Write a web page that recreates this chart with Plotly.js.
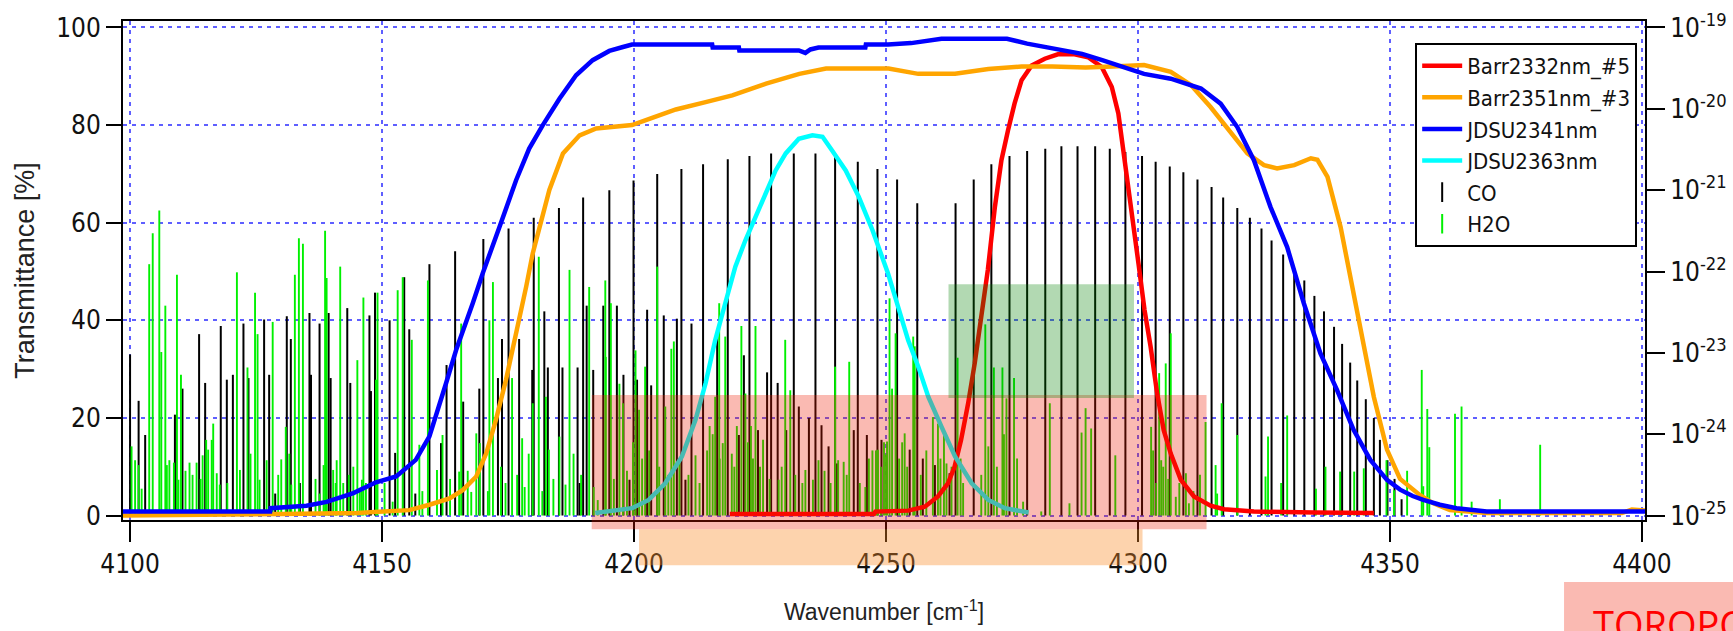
<!DOCTYPE html>
<html><head><meta charset="utf-8">
<script src="https://cdn.plot.ly/plotly-3.0.1.min.js"></script>
<style>html,body{margin:0;padding:0;background:#fff}</style>
</head><body><div id="chart" style="width:1733px;height:631px"></div>
<script>
// ---------------- data ----------------
// Filter transmittance curves [%] vs wavenumber [cm-1]
const redX = [4219.0,4230,4240,4247.6,4247.9,4254.4,4257.7,4260.3,4262.3,4263.6,4264.9,4266.3,4267.6,4268.9,4270.2,4271.6,4272.9,4274.2,4275.5,4276.9,4278.9,4281.5,4284.1,4287.4,4290.1,4292.8,4294.8,4296.1,4297.4,4298.8,4300.1,4301.3,4302.5,4303.8,4305.1,4306.5,4308.5,4311.1,4314.4,4317.1,4323.0,4335.0,4346.8];
const redY = [0.3,0.3,0.3,0.3,0.8,1.0,1.8,3.9,6.6,10.0,15.5,23.0,31.2,40.0,50.3,63.2,72.8,78.9,84.4,89.2,92.2,93.6,94.5,94.5,93.9,91.9,87.8,82.4,72.8,62.6,51.6,42.1,34.6,25.0,17.5,12.7,7.3,3.9,2.0,1.3,0.8,0.6,0.5];

const orangeX = [4098.6,4118,4130,4145,4148.8,4155.4,4159.4,4163.4,4166.0,4168.7,4170.7,4172.6,4174.6,4175.9,4177.3,4178.6,4179.9,4181.2,4183.2,4185.9,4189.2,4192.5,4199.6,4203.6,4208.3,4214.2,4219.5,4226.2,4232.8,4238.1,4250.5,4256.4,4263.7,4270.3,4276.9,4283.0,4289.6,4295.0,4301.2,4306.5,4310.5,4314.4,4318.4,4321.7,4325.0,4327.6,4331.0,4334.3,4335.6,4337.6,4340.2,4342.2,4344.2,4346.8,4349.4,4352.0,4355.9,4358.6,4361.9,4369.2,4396.0,4398.0,4400.6];
const orangeY = [0.0,0.1,0.3,0.5,0.8,1.1,2.2,3.5,5.2,8.0,12.8,19.6,27.8,33.9,40.1,46.9,53.7,59.1,66.7,74.2,77.9,79.3,80.0,81.5,83.2,84.7,86.1,88.5,90.5,91.6,91.6,90.5,90.5,91.5,92.0,92.0,91.8,92.0,92.3,90.9,88.2,83.7,78.3,74.2,71.8,71.1,71.8,73.2,72.9,69.4,59.1,48.2,38.0,24.3,13.5,7.5,4.2,2.5,1.1,0.5,0.5,1.2,1.0];

const blueX = [4098.6,4127.8,4127.9,4135.0,4139.0,4144.3,4148.8,4152.8,4156.7,4159.4,4162.7,4164.7,4168.0,4170.0,4173.3,4176.6,4179.2,4181.9,4185.2,4188.5,4191.8,4195.1,4197.8,4199.6,4215.5,4215.6,4220.8,4220.9,4232.7,4234.0,4235.0,4236.6,4245.9,4246.0,4250.4,4255.0,4261.0,4274.0,4278.0,4283.6,4288.9,4292.9,4296.8,4301.2,4306.5,4312.5,4316.4,4319.7,4323.0,4326.3,4329.6,4332.9,4336.2,4339.5,4342.8,4346.1,4349.4,4352.0,4354.5,4356.6,4359.9,4363.2,4369.2,4400.6];
const blueY = [0.8,0.8,1.5,2.0,2.8,4.6,6.8,8.0,11.4,16.2,27.1,33.9,43.5,49.7,59.1,68.7,75.2,80.0,85.4,90.2,93.3,95.2,96.0,96.5,96.5,95.9,95.9,95.3,95.3,94.8,95.5,95.9,95.9,96.5,96.5,96.8,97.7,97.7,96.7,95.6,94.6,93.3,91.9,90.5,89.5,87.5,84.4,79.6,72.8,63.2,55.0,43.5,33.2,25.7,17.5,11.4,7.3,5.3,4.0,3.2,2.2,1.5,0.8,0.8];

const cyanX = [4192.3,4196.0,4199.6,4202.9,4206.2,4209.5,4212.2,4214.2,4216.1,4218.1,4220.1,4222.1,4224.1,4226.1,4228.1,4230.1,4232.7,4235.4,4237.4,4239.3,4242.0,4244.6,4247.3,4250.4,4252.4,4254.4,4256.4,4258.4,4261.0,4263.7,4267.0,4270.3,4273.6,4278.3];
const cyanY = [0.5,0.9,1.5,3.2,6.6,12.1,19.6,27.1,35.9,43.5,51.0,56.4,61.2,66.0,70.7,74.2,77.2,77.9,77.6,74.8,70.7,65.3,58.5,49.6,42.8,35.9,30.5,24.3,18.2,12.1,6.6,3.2,1.5,0.6];

// CO line positions [cm-1] and log10 line intensities [cm/molecule]
const coX = [4100.0,4101.7,4103.0,4108.9,4110.4,4113.7,4114.9,4118.0,4119.2,4120.4,4122.5,4123.5,4126.6,4127.6,4128.8,4131.1,4131.9,4133.7,4135.6,4135.9,4137.6,4139.4,4139.8,4143.1,4143.7,4147.5,4147.8,4148.6,
 4151.5,4152.6,4154.4,4155.4,4156.6,4159.4,4161.7,4162.8,4164.5,4166.1,4169.3,4170.1,4173.0,4173.8,4175.1,4177.2,4179.8,4180.1,4182.2,4182.9,4185.1,4185.8,4188.8,4189.2,4189.9,4190.6,4191.9,4193.9,4195.1,4196.6,4197.9,4199.1,
 4199.9,4200.6,4202.6,4203.4,4204.6,4205.9,4208.5,4209.4,4210.2,4211.4,4213.7,4216.5,4218.6,4220.8,4221.8,4222.9,4224.6,4226.4,4227.2,4228.5,4230.2,4231.7,4232.7,4234.7,4236.0,4237.2,4238.6,4239.9,4240.3,4243.6,4244.4,4246.2,4248.3,4249.1,
 4252.2,4254.7,4256.2,4257.3,4259.7,4262.6,4263.8,4267.4,4270.9,4274.5,4278.0,4281.6,4284.8,4288.0,4291.5,4294.4,4297.5,4300.8,
 4303.5,4306.3,4309.0,4311.8,4314.6,4316.9,4319.7,4322.2,4324.5,4326.5,4328.8,4331.0,4333.0,4335.0,4336.9,4338.9,4340.5,4342.1,4343.5,4345.2,4346.8,4348.0,4349.5,4350.9,4352.3];
const coLogS = [-23.02,-23.59,-24.01,-23.76,-23.44,-22.77,-23.37,-22.67,-23.33,-23.27,-22.64,-23.31,-22.59,-23.27,-24.73,-22.55,-22.83,-24.60,-22.51,-23.27,-22.64,-22.51,-23.31,-22.45,-23.37,-22.54,-23.47,-22.26,
 -22.60,-24.23,-22.07,-22.71,-24.73,-21.91,-24.11,-23.15,-21.75,-23.60,-23.44,-21.60,-23.31,-22.83,-21.47,-22.83,-23.21,-21.34,-22.49,-23.18,-21.22,-23.18,-23.18,-24.60,-21.09,-22.42,-23.21,-22.42,-21.00,-22.42,-23.27,-24.56,
 -20.88,-23.33,-22.47,-23.40,-20.80,-22.54,-22.58,-20.74,-24.56,-22.64,-20.68,-22.80,-20.62,-24.01,-23.03,-20.58,-23.95,-23.24,-20.55,-23.37,-23.95,-20.55,-23.66,-23.80,-20.55,-23.89,-24.15,-20.58,-24.36,-23.95,-20.65,-24.01,-20.74,-24.07,
 -20.87,-24.19,-21.16,-24.30,-24.38,-24.48,-21.16,-20.87,-20.68,-20.58,-20.52,-20.49,-20.46,-20.46,-20.46,-20.49,-20.53,-20.58,
 -20.65,-20.71,-20.78,-20.87,-20.96,-21.09,-21.22,-21.34,-21.47,-21.62,-21.79,-22.03,-22.11,-22.30,-22.49,-22.68,-22.89,-23.12,-23.34,-23.57,-23.80,-24.07,-24.32,-24.55,-24.80];

// H2O line positions [cm-1] and log10 line intensities [cm/molecule]
const h2oX = [4100.3,4101.0,4101.7,4102.3,4103.8,4104.5,4105.8,4106.2,4107.0,4107.3,4107.8,4108.7,4109.3,4109.6,4110.1,4111.0,4111.8,4112.4,4113.2,4114.0,4114.4,4115.1,4115.5,4116.2,4116.5,4117.2,4117.8,4119.3,4121.2,4121.8,4123.3,4123.9,4124.8,4125.3,4125.7,4127.1,4128.3,4129.4,4130.0,4130.9,4131.6,4132.0,4132.7,4133.5,4134.3,4136.8,4137.6,4138.4,4138.7,4139.0,4140.3,4140.8,4141.0,4141.7,4142.3,4143.4,4144.3,4145.1,4145.6,4146.0,4146.3,4146.8,4148.8,
 4149.1,4150.5,4152.1,4153.1,4154.1,4155.9,4157.4,4158.0,4159.1,4160.9,4162.0,4163.5,4165.3,4165.7,4167.0,4167.7,4168.7,4169.4,4171.0,4171.3,4172.0,4173.6,4174.5,4175.8,4176.8,4177.8,4178.3,4179.1,4179.9,4181.1,4181.8,4182.5,4183.1,4184.0,4185.2,4186.4,4187.2,4188.0,4189.5,4191.1,4192.0,4192.8,4194.3,4194.4,4195.4,4196.0,4197.1,4197.8,4198.6,
 4199.8,4200.3,4201.0,4201.6,4202.2,4203.0,4204.6,4205.0,4206.2,4206.8,4207.4,4207.9,4209.0,4210.8,4212.2,4213.0,4214.5,4215.0,4215.6,4216.1,4216.9,4217.0,4217.6,4218.1,4219.4,4219.9,4220.4,4221.3,4222.1,4222.6,4223.2,4223.6,4224.1,4225.0,4225.6,4226.9,4228.7,4229.3,4230.0,4231.0,4232.0,4233.4,4234.0,4235.5,4236.6,4237.8,4239.0,4239.9,4240.5,4241.6,4242.2,4242.7,4244.8,4245.9,4246.6,4247.3,4248.0,4248.4,4249.0,4249.6,4250.0,4250.2,
 4250.7,4251.2,4251.9,4252.6,4253.2,4253.7,4254.2,4255.4,4255.7,4256.9,4258.0,4259.3,4260.3,4260.8,4261.5,4262.0,4263.0,4264.2,4264.8,4265.3,4268.9,4269.7,4270.3,4271.4,4272.0,4273.1,4273.4,4273.9,4275.4,4276.0,4277.2,4280.8,4282.5,4286.4,4288.8,4289.6,4290.7,4295.5,
 4302.6,4303.0,4303.6,4304.2,4304.6,4305.0,4305.5,4306.0,4306.5,4307.5,4308.2,4309.5,4310.1,4311.0,4312.3,4313.4,4315.4,4315.7,4316.6,4319.7,4325.3,4325.8,4328.4,4329.6,4335.3,4337.2,4340.1,4342.9,4344.8,4349.3,4350.8,
 4353.4,4356.3,4356.6,4357.4,4357.8,4362.9,4364.2,4366.2,4371.8,4379.8];
const h2oLogS = [-24.15,-24.32,-24.38,-24.67,-21.91,-21.53,-21.25,-22.99,-22.42,-24.38,-24.32,-24.35,-22.04,-24.56,-23.27,-24.45,-24.35,-24.50,-24.35,-24.55,-24.26,-24.07,-24.19,-24.07,-23.87,-24.48,-24.62,-24.60,-22.01,-24.44,-23.18,-24.24,-22.26,-22.77,-24.56,-24.32,-22.62,-24.50,-24.31,-23.91,-24.24,-24.62,-22.04,-21.59,-21.66,-24.55,-24.73,-24.38,-21.50,-22.08,-24.44,-24.60,-24.32,-21.94,-24.60,-24.50,-24.40,-23.09,-24.70,-24.56,-22.32,-24.60,-23.33,
 -22.26,-24.60,-24.83,-22.23,-22.07,-22.84,-24.13,-24.70,-22.11,-24.44,-24.01,-24.55,-24.46,-22.64,-24.45,-24.71,-23.99,-24.11,-24.70,-22.60,-22.13,-24.40,-24.60,-23.31,-24.50,-24.05,-24.65,-24.24,-23.62,-21.82,-24.70,-23.54,-24.19,-24.55,-24.03,-24.62,-21.98,-24.24,-24.50,-22.19,-24.65,-24.81,-22.11,-23.05,-22.39,-24.55,-23.38,-23.62,-24.45,
 -24.10,-22.97,-23.70,-24.30,-23.17,-24.20,-21.94,-24.40,-23.66,-24.50,-22.95,-22.86,-24.30,-24.50,-24.26,-24.60,-24.20,-23.90,-24.00,-23.54,-22.39,-24.30,-24.11,-22.80,-24.24,-24.40,-23.90,-22.67,-23.50,-24.10,-23.90,-24.30,-22.67,-24.40,-24.07,-24.55,-24.56,-24.40,-22.84,-23.46,-24.50,-24.60,-24.44,-24.56,-24.32,-24.45,-24.60,-23.17,-24.32,-24.34,-24.50,-23.11,-24.60,-24.65,-24.30,-24.20,-24.20,-24.19,-24.40,-24.10,-24.25,-24.09,
 -22.33,-23.44,-22.76,-24.30,-24.10,-23.99,-24.40,-22.80,-22.92,-24.50,-24.20,-23.79,-23.87,-24.30,-24.00,-24.36,-24.40,-23.06,-24.30,-24.60,-24.50,-22.65,-24.15,-23.18,-24.40,-23.18,-24.00,-23.56,-23.31,-24.30,-24.83,-24.95,-23.62,-24.85,-23.98,-23.68,-23.93,-24.26,
 -23.91,-24.20,-24.60,-23.25,-24.32,-24.40,-23.13,-24.55,-22.76,-24.77,-24.60,-24.48,-24.85,-24.70,-24.50,-23.85,-24.38,-24.73,-23.62,-24.01,-24.52,-24.03,-24.60,-23.77,-24.67,-24.40,-24.46,-24.46,-24.42,-24.32,-24.69,
 -24.45,-23.21,-24.64,-23.69,-24.16,-23.75,-23.66,-24.83,-24.80,-24.13];

// tick labels
const xTicks = [4100,4150,4200,4250,4300,4350,4400];
const yTicks = [0,20,40,60,80,100];
const y2TickVals = [1e-25,1e-24,1e-23,1e-22,1e-21,1e-20,1e-19];
const y2TickText = ['10<sup>-25</sup>','10<sup>-24</sup>','10<sup>-23</sup>','10<sup>-22</sup>','10<sup>-21</sup>','10<sup>-20</sup>','10<sup>-19</sup>'];

// ---------------- layout constants ----------------
const X_RANGE = [4098.6, 4400.6];
const Y_RANGE = [-0.92, 101.33];                 // transmittance axis
const LOG_RANGE = [-25 + Y_RANGE[0]*0.06, -19 + (Y_RANGE[1]-100)*0.06]; // intensity axis (log10)
const STICK_BASE = 1e-25;
const FONT = '"Liberation Sans Narrow", "Arial Narrow", "DejaVu Sans Condensed", sans-serif';
const GRID = 'rgb(95,95,255)';

// highlighted regions in data units
const pinkBox   = {x0: 4191.6, x1: 4313.6, y0: -2.8,  y1: 24.7};
const orangeBox = {x0: 4201.0, x1: 4300.9, y0: -10.2, y1: -2.8};
const greenBox  = {x0: 4262.4, x1: 4299.2, y0: 24.1,  y1: 47.4};

const px = v => (v - X_RANGE[0]) / (X_RANGE[1] - X_RANGE[0]);
const py = v => (v - Y_RANGE[0]) / (Y_RANGE[1] - Y_RANGE[0]);
function paperRect(b, fill){
  return {type:'rect', xref:'paper', yref:'paper', x0:px(b.x0), x1:px(b.x1), y0:py(b.y0), y1:py(b.y1),
          line:{width:0}, fillcolor:fill, layer:'above'};
}

function sticks(xs, logs){
  const X = [], Y = [];
  for (let i = 0; i < xs.length; i++){
    X.push(xs[i], xs[i], null);
    Y.push(STICK_BASE, Math.pow(10, logs[i]), null);
  }
  return {X, Y};
}
const co = sticks(coX, coLogS);
const h2o = sticks(h2oX, h2oLogS);
const GREEN = '#00f000';

const traces = [
  {x: co.X, y: co.Y, yaxis:'y', mode:'lines', line:{color:'#000', width:2}, showlegend:false, hoverinfo:'skip', connectgaps:false},
  {x: h2o.X, y: h2o.Y, yaxis:'y', mode:'lines', line:{color:GREEN, width:1.9}, showlegend:false, hoverinfo:'skip', connectgaps:false},
  {x: redX, y: redY, yaxis:'y2', mode:'lines', name:'Barr2332nm_#5', line:{color:'#ff0000', width:4.5}},
  {x: orangeX, y: orangeY, yaxis:'y2', mode:'lines', name:'Barr2351nm_#3', line:{color:'#ffa500', width:4.5}},
  {x: blueX, y: blueY, yaxis:'y2', mode:'lines', name:'JDSU2341nm', line:{color:'#0000ff', width:4.5}},
  {x: cyanX, y: cyanY, yaxis:'y2', mode:'lines', name:'JDSU2363nm', line:{color:'#00ffff', width:4.5}},
  {x:[null], y:[null], yaxis:'y', mode:'markers', name:'CO', marker:{symbol:'line-ns', size:14, color:'#000', line:{width:2, color:'#000'}}},
  {x:[null], y:[null], yaxis:'y', mode:'markers', name:'H2O', marker:{symbol:'line-ns', size:14, color:GREEN, line:{width:2, color:GREEN}}}
];

const tickFont = {family: FONT, size: 26, color: '#111'};
const layout = {
  width: 1733, height: 631,
  margin: {l:123, r:88, t:21, b:111, pad:0},
  paper_bgcolor:'#fff', plot_bgcolor:'#fff',
  showlegend: true,
  xaxis: {
    range: X_RANGE, tickmode:'array', tickvals: xTicks, ticktext: xTicks.map(String),
    ticks:'outside', ticklen:20, tickwidth:2, tickcolor:'#000',
    showline:true, linewidth:2, linecolor:'#000', mirror:true,
    showgrid:true, gridcolor:GRID, gridwidth:2, griddash:'4px,5px', zeroline:false,
    tickfont: tickFont,
    title:{text:'Wavenumber [cm<sup>-1</sup>]', font:{family:'"Liberation Sans", Arial, sans-serif', size:23, color:'#222'}, standoff:26}
  },
  yaxis: {
    type:'log', side:'right', range: LOG_RANGE,
    tickmode:'array', tickvals: y2TickVals, ticktext: y2TickText,
    ticks:'outside', ticklen:18, tickwidth:2, tickcolor:'#000',
    showline:true, linewidth:2, linecolor:'#000',
    showgrid:false, zeroline:false, tickfont: tickFont
  },
  yaxis2: {
    overlaying:'y', side:'left', range: Y_RANGE,
    tickmode:'array', tickvals: yTicks, ticktext: yTicks.map(String),
    ticks:'outside', ticklen:15, tickwidth:2, tickcolor:'#000',
    showline:true, linewidth:2, linecolor:'#000',
    showgrid:true, gridcolor:GRID, gridwidth:2, griddash:'4px,5px', zeroline:false,
    tickfont: tickFont,
    title:{text:'Transmittance [%]', font:{family:'"Liberation Sans", Arial, sans-serif', size:27, color:'#222'}, standoff:14}
  },
  legend: {
    x: 0.849, y: 0.956, xanchor:'left', yanchor:'top',
    bgcolor:'#fff', bordercolor:'#000', borderwidth:2,
    font:{family: FONT, size:22, color:'#111'}, tracegroupgap:0, itemwidth:40
  },
  shapes: [
    paperRect(pinkBox, 'rgba(240,27,0,0.3)'),
    paperRect(orangeBox, 'rgba(250,140,40,0.38)'),
    paperRect(greenBox, 'rgba(0,128,0,0.3)'),
    {type:'rect', xref:'paper', yref:'paper', x0:0.9468, x1:1.08, y0:-0.26, y1:-0.1242, line:{width:0}, fillcolor:'rgba(240,27,0,0.3)', layer:'above'}
  ],
  annotations: [
    {xref:'paper', yref:'paper', x:0.9652, y:-0.2084, xanchor:'left', yanchor:'middle', showarrow:false,
     text:'TOROPOMI', font:{family:'"Open Sans", "Noto Sans", sans-serif', size:38, color:'#ff0000'}, borderpad:0}
  ]
};

Plotly.newPlot('chart', traces, layout, {displayModeBar:false, staticPlot:true});
</script></body></html>
